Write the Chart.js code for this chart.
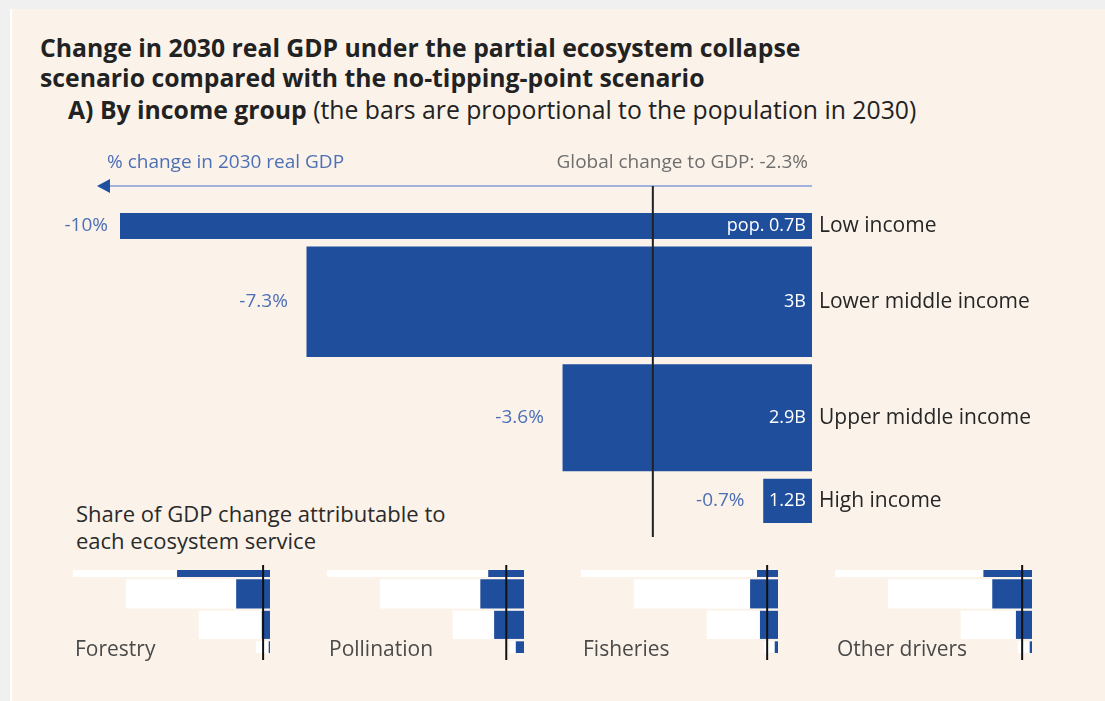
<!DOCTYPE html>
<html>
<head>
<meta charset="utf-8">
<title>Change in 2030 real GDP</title>
<script src="https://cdn.jsdelivr.net/npm/chart.js@4"></script>
<style>
  html, body { margin: 0; padding: 0; background: #f0f0f0; }
  body { width: 1105px; height: 701px; position: relative; overflow: hidden; font-family: "Open Sans", Lato, sans-serif; }
  .card { position: absolute; left: 10px; top: 9px; right: 0; bottom: 0; background: #fbf3ea; border-left: 2px solid #ffffff; }
  .title { position: absolute; left: 40px; top: 33px; font-size: 24.75px; line-height: 29.5px; font-weight: 700; color: #222; white-space: nowrap; }
  .subtitle { position: absolute; left: 68px; top: 96px; font-size: 24.75px; line-height: 27px; color: #222; white-space: nowrap; }
  .subtitle b { font-weight: 700; }
  .share { position: absolute; left: 76px; top: 500px; font-size: 22px; line-height: 27px; color: #2a2a2a; white-space: nowrap; }
  .svc { position: absolute; top: 635px; font-size: 21px; line-height: 26px; color: #4a4a4a; white-space: nowrap; }
  canvas { position: absolute; }
</style>
</head>
<body>
<div class="card"></div>
<div class="title">Change in 2030 real GDP under the partial ecosystem collapse<br>scenario compared with the no-tipping-point scenario</div>
<div class="subtitle"><b>A) By income group</b> (the bars are proportional to the population in 2030)</div>
<div class="share">Share of GDP change attributable to<br>each ecosystem service</div>

<canvas id="main" width="1105" height="400" style="left:0;top:140px;"></canvas>
<div id="panels"></div>

<script>
// Income groups, top to bottom
const groups = ['Low income', 'Lower middle income', 'Upper middle income', 'High income'];
// % change in 2030 real GDP per group
const gdpChange = [-10, -7.3, -3.6, -0.7];
// Population in 2030, billions (sets bar thickness)
const population = [0.7, 3, 2.9, 1.2];
const popLabels = ['pop. 0.7B', '3B', '2.9B', '1.2B'];
const globalChange = -2.3;

// Contribution of each ecosystem service to the GDP change, per group (% points)
const services = ['Forestry', 'Pollination', 'Fisheries', 'Other drivers'];
const forestry = [-4.7, -1.7, -0.4, -0.05];
const pollination = [-1.8, -2.2, -1.5, -0.4];
const fisheries = [-1.05, -1.4, -0.9, -0.15];
const otherDrivers = [-2.45, -2.0, -0.8, -0.1];
// Global contribution of each service (sums to the global change)
const serviceGlobal = [-0.35, -0.9, -0.55, -0.5];

const BLUE = '#1f4e9d';
const LABEL_BLUE = '#4c6fb6';
const FONT = '"Open Sans", Lato, sans-serif';

// Centre of each row on a linear axis measured in billions of people
function rowCentres(pops, gap) {
  const centres = [];
  let pos = 0;
  pops.forEach((p, i) => {
    centres.push(pos + p / 2);
    pos += p + (i < pops.length - 1 ? gap : 0);
  });
  return { centres, total: pos };
}

// Pixel thickness of a bar for a given population, from the y scale
function thickness(chart, pop) {
  const y = chart.scales.y;
  if (!y) return 10;
  return Math.abs(y.getPixelForValue(pop) - y.getPixelForValue(0));
}

// One dataset per row so each row can have its own thickness; lower order draws on top
function rowDatasets(values, pops, centres, color, tag, order) {
  return values.map((v, i) => ({
    label: tag + ' ' + groups[i],
    data: [{ x: v, y: centres[i] }],
    backgroundColor: color,
    borderWidth: 0,
    grouped: false,
    order: order,
    barThickness: (ctx) => thickness(ctx.chart, pops[i])
  }));
}

// ---------- Main chart ----------
const mainRows = rowCentres(population, 0.22);

const mainDecor = {
  id: 'mainDecor',
  afterDatasetsDraw(chart) {
    const ctx = chart.ctx;
    const area = chart.chartArea;
    const xs = chart.scales.x;
    const zeroX = xs.getPixelForValue(0);
    const arrowY = area.top - 27;

    ctx.save();
    // header texts
    ctx.textBaseline = 'middle';
    ctx.font = '19px ' + FONT;
    ctx.fillStyle = LABEL_BLUE;
    ctx.textAlign = 'left';
    ctx.fillText('% change in 2030 real GDP', 107, arrowY - 23);
    ctx.fillStyle = '#6e6e6e';
    ctx.textAlign = 'right';
    ctx.fillText('Global change to GDP: ' + globalChange + '%', zeroX - 4, arrowY - 23);

    // direction arrow
    ctx.strokeStyle = '#9fb3dc';
    ctx.lineWidth = 2;
    ctx.beginPath();
    ctx.moveTo(zeroX, arrowY);
    ctx.lineTo(108, arrowY);
    ctx.stroke();
    ctx.fillStyle = '#2150a0';
    ctx.beginPath();
    ctx.moveTo(97, arrowY);
    ctx.lineTo(110, arrowY - 7);
    ctx.lineTo(110, arrowY + 7);
    ctx.closePath();
    ctx.fill();

    // labels around each bar
    chart.data.datasets.forEach((ds, i) => {
      const bar = chart.getDatasetMeta(i).data[0];
      if (!bar) return;
      ctx.textBaseline = 'middle';
      ctx.font = '19px ' + FONT;
      ctx.fillStyle = LABEL_BLUE;
      ctx.textAlign = 'right';
      ctx.fillText(gdpChange[i] + '%', bar.x - (i === 0 ? 12 : 19), bar.y);
      ctx.font = '18px ' + FONT;
      ctx.fillStyle = '#ffffff';
      ctx.fillText(popLabels[i], bar.base - 6, bar.y);
      ctx.font = '21px ' + FONT;
      ctx.fillStyle = '#262626';
      ctx.textAlign = 'left';
      ctx.fillText(groups[i], bar.base + 7, bar.y);
    });

    // global change marker
    const gx = xs.getPixelForValue(globalChange);
    ctx.strokeStyle = '#222';
    ctx.lineWidth = 2;
    ctx.beginPath();
    ctx.moveTo(gx, arrowY);
    ctx.lineTo(gx, area.bottom + 14);
    ctx.stroke();
    ctx.restore();
  }
};

new Chart(document.getElementById('main'), {
  type: 'bar',
  data: { datasets: rowDatasets(gdpChange, population, mainRows.centres, BLUE, 'GDP', 0) },
  options: {
    indexAxis: 'y',
    responsive: false,
    animation: false,
    devicePixelRatio: 1,
    events: [],
    layout: { padding: { left: 120, right: 293, top: 73, bottom: 17 } },
    scales: {
      x: { type: 'linear', min: -10, max: 0, display: false },
      y: { type: 'linear', min: 0, max: mainRows.total, reverse: true, offset: false, display: false }
    },
    plugins: { legend: { display: false }, tooltip: { enabled: false }, title: { display: false } }
  },
  plugins: [mainDecor]
});

// ---------- Small multiples, one per ecosystem service ----------
const serviceValues = [forestry, pollination, fisheries, otherDrivers];
const panelRows = rowCentres(population, 0.32);
const panelHost = document.getElementById('panels');

services.forEach((name, s) => {
  const zero = 270 + 254 * s;
  const cv = document.createElement('canvas');
  cv.width = 215; cv.height = 105;
  cv.style.left = (zero - 200) + 'px';
  cv.style.top = '560px';
  panelHost.appendChild(cv);

  const lbl = document.createElement('div');
  lbl.className = 'svc';
  lbl.style.left = (zero - 195) + 'px';
  lbl.textContent = name;
  panelHost.appendChild(lbl);

  const marker = {
    id: 'marker' + s,
    afterDatasetsDraw(chart) {
      const ctx = chart.ctx;
      const x = chart.scales.x.getPixelForValue(serviceGlobal[s]);
      ctx.save();
      ctx.strokeStyle = '#111';
      ctx.lineWidth = 2;
      ctx.beginPath();
      ctx.moveTo(x, 5);
      ctx.lineTo(x, 100);
      ctx.stroke();
      ctx.restore();
    }
  };

  new Chart(cv, {
    type: 'bar',
    data: {
      datasets: rowDatasets(gdpChange, population, panelRows.centres, '#ffffff', 'Total', 2)
        .concat(rowDatasets(serviceValues[s], population, panelRows.centres, BLUE, name, 1))
    },
    options: {
      indexAxis: 'y',
      responsive: false,
      animation: false,
      devicePixelRatio: 1,
      events: [],
      layout: { padding: { left: 3, right: 15, top: 10, bottom: 12 } },
      scales: {
        x: { type: 'linear', min: -10, max: 0, display: false },
        y: { type: 'linear', min: 0, max: panelRows.total, reverse: true, offset: false, display: false }
      },
      plugins: { legend: { display: false }, tooltip: { enabled: false }, title: { display: false } }
    },
    plugins: [marker]
  });
});
</script>
</body>
</html>
